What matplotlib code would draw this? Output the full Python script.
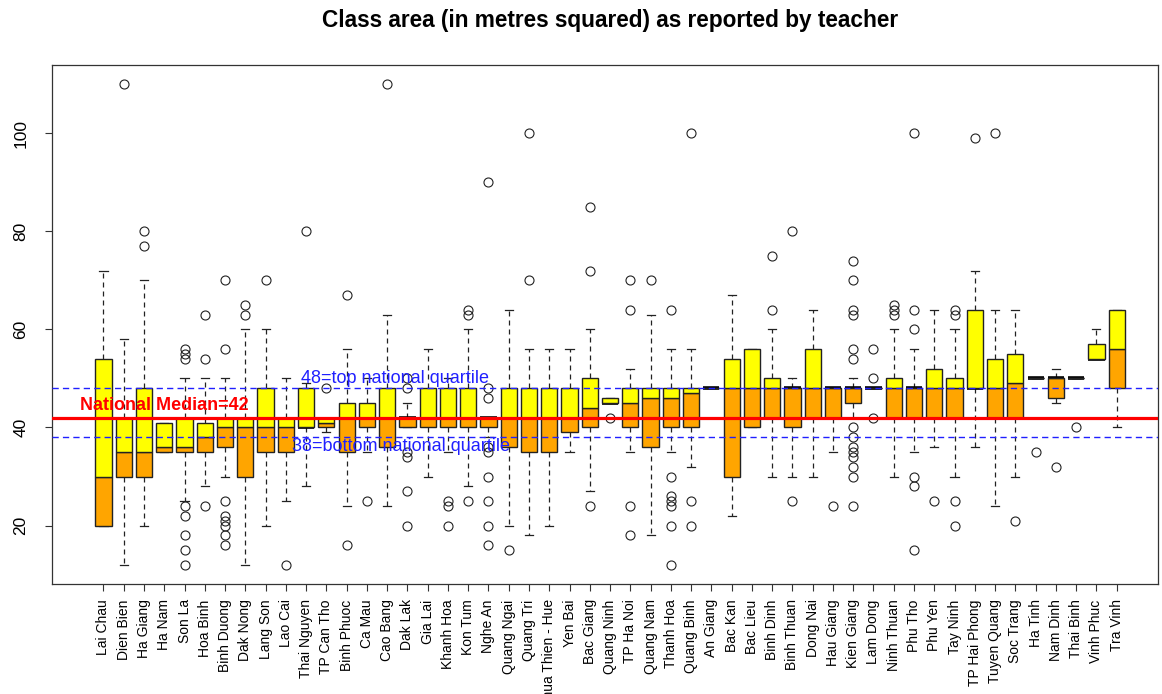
import matplotlib
matplotlib.use("Agg")
import matplotlib.pyplot as plt
from matplotlib.ticker import FixedLocator

plt.rcParams['font.family'] = ['Liberation Sans', 'DejaVu Sans']

provinces = ["Lai Chau", "Dien Bien", "Ha Giang", "Ha Nam", "Son La", "Hoa Binh",
             "Binh Duong", "Dak Nong", "Lang Son", "Lao Cai", "Thai Nguyen",
             "TP Can Tho", "Binh Phuoc", "Ca Mau", "Cao Bang", "Dak Lak", "Gia Lai",
             "Khanh Hoa", "Kon Tum", "Nghe An", "Quang Ngai", "Quang Tri",
             "Thua Thien - Hue", "Yen Bai", "Bac Giang", "Quang Ninh", "TP Ha Noi",
             "Quang Nam", "Thanh Hoa", "Quang Binh", "An Giang", "Bac Kan",
             "Bac Lieu", "Binh Dinh", "Binh Thuan", "Dong Nai", "Hau Giang",
             "Kien Giang", "Lam Dong", "Ninh Thuan", "Phu Tho", "Phu Yen",
             "Tay Ninh", "TP Hai Phong", "Tuyen Quang", "Soc Trang", "Ha Tinh",
             "Nam Dinh", "Thai Binh", "Vinh Phuc", "Tra Vinh"]

q1 = [20, 30, 30, 35, 35, 35, 36, 30, 35, 35, 40, 40, 35, 40, 36, 40, 40, 40, 40, 40,
      36, 35, 35, 39, 40, 45, 40, 36, 40, 40, 48, 30, 40, 42, 40, 42, 42, 45, 48, 42,
      42, 42, 42, 48, 42, 42, 50, 46, 50, 54, 48]
median = [30, 35, 35, 36, 36, 38, 40, 40, 40, 40, 40, 41, 42, 42, 42, 42, 42, 42, 42, 42,
          42, 42, 42, 42, 44, 45, 45, 46, 46, 47, 48, 48, 48, 48, 48, 48, 48, 48, 48, 48,
          48, 48, 48, 48, 48, 49, 50, 50, 50, 54, 56]
q3 = [54, 42, 48, 41, 42, 41, 42, 42, 48, 42, 48, 42, 45, 45, 48, 42, 48, 48, 48, 42,
      48, 48, 48, 48, 50, 46, 48, 48, 48, 48, 48, 54, 56, 50, 48, 56, 48, 48, 48, 50,
      48, 52, 50, 64, 54, 55, 50, 50, 50, 57, 64]
whisker_low = [20, 12, 20, 35, 25, 28, 30, 12, 20, 25, 28, 39, 24, 35, 24, 40, 30, 35, 28, 38,
               20, 18, 20, 35, 27, 45, 35, 18, 35, 32, 48, 22, 40, 30, 30, 30, 35, 42, 48, 30,
               35, 36, 30, 36, 24, 30, 50, 45, 50, 54, 40]
whisker_high = [72, 58, 70, 41, 50, 50, 50, 60, 60, 50, 49, 42, 56, 50, 63, 45, 56, 50, 60, 42,
                64, 56, 56, 56, 60, 46, 52, 63, 56, 56, 48, 67, 56, 60, 50, 64, 48, 50, 48, 60,
                56, 64, 60, 72, 64, 64, 50, 52, 50, 60, 64]
outliers = [
    [], [110], [80, 77], [], [56, 55, 54, 24, 22, 18, 15, 12], [63, 54, 24],
    [70, 56, 25, 22, 21, 20, 18, 16], [65, 63], [70], [12], [80],
    [48], [67, 16], [25], [110], [50, 48, 35, 34, 27, 20], [],
    [25, 24, 20], [64, 63, 25], [90, 48, 46, 36, 35, 30, 25, 20, 16], [15], [100, 70],
    [], [], [85, 72, 24], [42], [70, 64, 24, 18],
    [70], [64, 30, 26, 25, 24, 20, 12], [100, 25, 20], [], [],
    [], [75, 64], [80, 25], [], [24],
    [74, 70, 64, 63, 56, 54, 40, 38, 36, 35, 34, 32, 30, 24], [56, 50, 42], [65, 64, 63],
    [100, 64, 60, 30, 28, 15], [25],
    [64, 63, 25, 20], [99], [100], [21], [35],
    [32], [40], [], [],
]

national_median = 42
national_q3 = 48
national_q1 = 38

fig = plt.figure(figsize=(11.62, 6.94), dpi=100)
ax = fig.add_axes([52 / 1162, 1 - 584 / 694, (1158 - 52) / 1162, (584 - 65) / 694])

positions = list(range(1, len(provinces) + 1))
stats = [dict(med=m, q1=a, q3=b, whislo=lo, whishi=hi, fliers=f)
         for m, a, b, lo, hi, f in zip(median, q1, q3, whisker_low, whisker_high, outliers)]

ax.bxp(stats, positions=positions, widths=0.8, capwidths=0.4, showbox=False,
       whiskerprops=dict(color='#222222', lw=0.9, linestyle=(0, (4, 3.2))),
       capprops=dict(color='#222222', lw=0.9),
       medianprops=dict(color='black', lw=2.6, solid_capstyle='butt'),
       flierprops=dict(marker='o', markerfacecolor='none', markeredgecolor='#222222',
                       markersize=6.5, markeredgewidth=0.8),
       manage_ticks=False, zorder=2)

# lower half of each box (Q1 to median) and upper half (median to Q3)
lower_h = [m - a for m, a in zip(median, q1)]
upper_h = [b - m for b, m in zip(q3, median)]
ax.bar(positions, lower_h, bottom=q1, width=0.8, color='#FFA500',
       edgecolor='#222222', linewidth=1.0, zorder=3)
ax.bar(positions, upper_h, bottom=median, width=0.8, color='#FFFF00',
       edgecolor='#222222', linewidth=1.0, zorder=3)

# national reference lines
ax.axhline(national_median, color='#FF0000', lw=2.3, zorder=5)
ax.axhline(national_q3, color='#2020FF', lw=1.0, linestyle=(0, (4.5, 3)), zorder=5)
ax.axhline(national_q1, color='#2020FF', lw=1.0, linestyle=(0, (4.5, 3)), zorder=5)

ax.text(4.0, 44.4, f"National Median={national_median}", color='#FF0000',
        fontsize=13, fontweight='bold', ha='center', va='center', zorder=6)
ax.text(15.37, 49.9, f"{national_q3}=top national quartile", color='#2020FF',
        fontsize=13, ha='center', va='center', zorder=6)
ax.text(15.67, 36.2, f"{national_q1}=bottom national quartile", color='#2020FF',
        fontsize=13, ha='center', va='center', zorder=6)

ax.set_xlim(-1.54, 53.04)
ax.set_ylim(8.08, 113.92)

ax.xaxis.set_major_locator(FixedLocator(positions))
ax.set_xticklabels(provinces, rotation=90, fontsize=10, va='top', ha='center')
ax.set_yticks([20, 40, 60, 80, 100])
ax.set_yticklabels(["20", "40", "60", "80", "100"], rotation=90, fontsize=12.5, va='center')
ax.tick_params(axis='x', length=5, width=0.8, color='#333333', pad=6)
ax.tick_params(axis='y', length=5, width=0.8, color='#333333', pad=12)

for sp in ax.spines.values():
    sp.set_color('#333333')
    sp.set_linewidth(0.9)

fig.text(610 / 1162, 1 - 21 / 694, "Class area (in metres squared) as reported by teacher",
         fontsize=16.3, fontweight='bold', ha='center', va='center')

fig.savefig("out.png", dpi=100)
